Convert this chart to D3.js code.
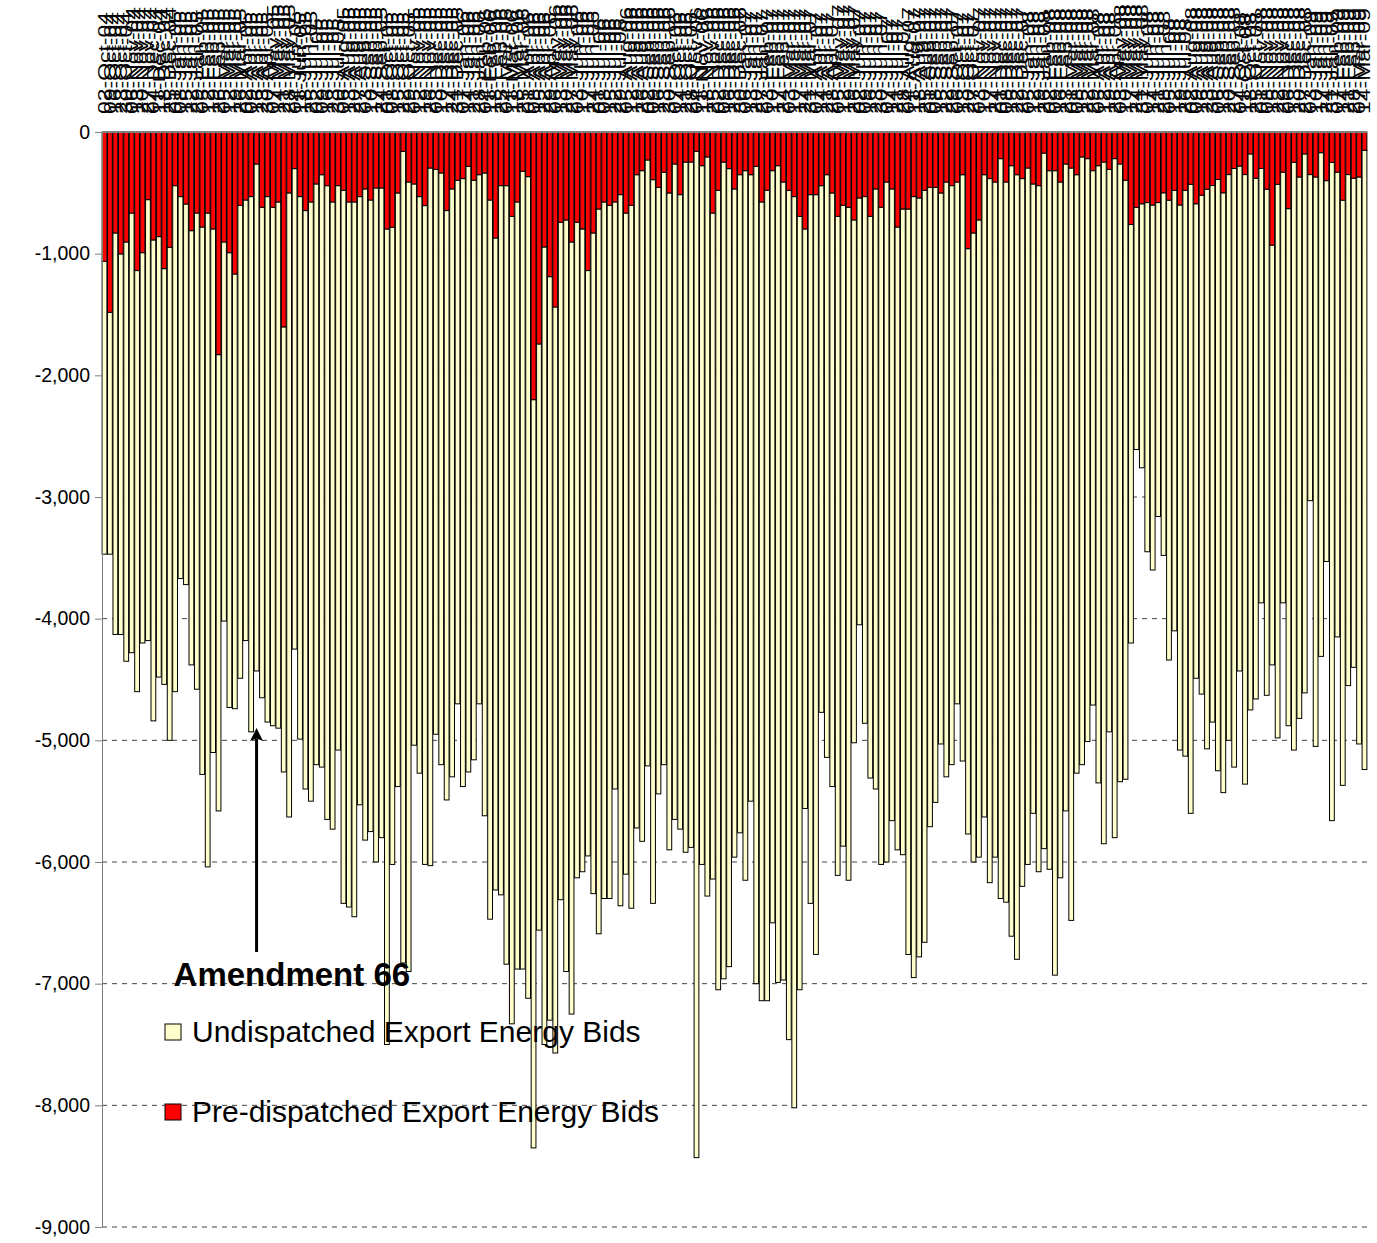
<!DOCTYPE html>
<html>
<head>
<meta charset="utf-8">
<script src="https://cdn.jsdelivr.net/npm/d3@7/dist/d3.min.js"></script>
<style>
  body { margin: 0; background: #fff; }
  text { font-family: Arial, "Liberation Sans", sans-serif; }
</style>
</head>
<body>
<svg id="chart" width="1377" height="1243"></svg>
<script>
// weekly export bids, MW (stored as positive magnitudes, drawn below zero)
const firstWeek = "2004-10-02";

const preDispatched = [
  1063, 1482, 830, 1002, 904, 666, 1139, 992, 556, 887,
  860, 1123, 948, 441, 531, 592, 811, 666, 781, 666,
  797, 1830, 904, 992, 1167, 603, 559, 531, 263, 619,
  531, 619, 575, 1602, 501, 301, 531, 646, 575, 427,
  351, 441, 575, 441, 479, 575, 575, 531, 468, 559,
  460, 460, 797, 783, 501, 159, 411, 427, 531, 605,
  296, 307, 337, 646, 468, 397, 383, 282, 397, 351,
  337, 559, 871, 441, 441, 693, 575, 323, 367, 2200,
  1742, 945, 1189, 1438, 742, 723, 904, 742, 797, 1139,
  830, 633, 575, 603, 575, 515, 666, 603, 351, 318,
  230, 392, 455, 331, 501, 263, 515, 247, 247, 159,
  277, 205, 666, 479, 247, 301, 468, 351, 318, 351,
  282, 575, 479, 318, 277, 411, 479, 531, 693, 797,
  515, 515, 441, 351, 501, 693, 603, 619, 723, 542,
  531, 693, 468, 619, 411, 468, 781, 633, 633, 531,
  542, 479, 455, 455, 501, 411, 441, 411, 351, 959,
  830, 723, 351, 383, 411, 219, 411, 277, 351, 383,
  296, 427, 441, 173, 318, 318, 411, 263, 296, 351,
  205, 219, 318, 277, 247, 307, 219, 263, 397, 760,
  620, 590, 580, 600, 580, 500, 560, 480, 600, 480,
  430, 590, 520, 470, 440, 390, 500, 350, 300, 280,
  350, 180, 380, 300, 470, 930, 430, 330, 630, 250,
  370, 180, 350, 370, 170, 400, 250, 330, 560, 350,
  380, 370, 150
];

// pre-dispatched + undispatched
const totalBids = [
  3470, 3470, 4130, 4130, 4350, 4280, 4600, 4200, 4180, 4840,
  4480, 4540, 5000, 4600, 3670, 3720, 4380, 4580, 5280, 6040,
  5100, 5580, 4020, 4730, 4740, 4490, 4180, 4930, 4430, 4650,
  4850, 4880, 4900, 5260, 5630, 4250, 4990, 5400, 5500, 5200,
  5220, 5650, 5730, 5080, 6340, 6370, 6450, 5530, 5820, 5750,
  6000, 5800, 7500, 6020, 5380, 6830, 6900, 5040, 5270, 6020,
  6030, 4950, 5200, 5490, 5300, 4700, 5380, 5260, 5160, 4700,
  5620, 6470, 6230, 6270, 6840, 7330, 6880, 6880, 7120, 8350,
  6560, 7500, 7300, 7570, 6310, 6900, 7250, 6130, 6080, 5950,
  6260, 6590, 6300, 6300, 5400, 6360, 6100, 6380, 5720, 5830,
  5210, 6340, 5440, 5200, 5900, 5650, 5730, 5920, 5880, 8430,
  6020, 6280, 6140, 7050, 6960, 6860, 5960, 5760, 6150, 5500,
  7000, 7140, 7140, 6500, 6990, 6970, 7460, 8020, 7050, 5560,
  6340, 6760, 4770, 5140, 5380, 6110, 5870, 6150, 5020, 4050,
  4860, 5310, 5400, 6020, 6000, 5660, 5900, 5940, 6760, 6950,
  6780, 6660, 5710, 5510, 5030, 5300, 5200, 4700, 5170, 5770,
  6000, 5960, 5630, 6170, 5960, 6300, 6330, 6610, 6800, 6200,
  6020, 5600, 6080, 5890, 6060, 6930, 6130, 5580, 6480, 5270,
  5200, 5010, 4710, 5350, 5850, 4930, 5800, 5340, 5320, 4200,
  2610, 2760, 3450, 3600, 3160, 3480, 4340, 4100, 5080, 5130,
  5600, 4490, 4620, 5070, 4850, 5250, 5430, 5000, 5220, 4430,
  5360, 4750, 4660, 3870, 4630, 4380, 4980, 3870, 4880, 5080,
  4820, 4610, 3030, 5050, 4310, 3530, 5660, 4150, 5370, 4550,
  4400, 5030, 5240
];

const yTicks = [0, -1000, -2000, -3000, -4000, -5000, -6000, -7000, -8000, -9000];
const seriesNames = ["Undispatched Export Energy Bids", "Pre-dispatched Export Energy Bids"];
const seriesColors = ["#FFFFCC", "#FF0000"];
const annotationText = "Amendment 66";
const annotationWeek = 28;
const annotationTip = -4870;
const annotationTail = -6740;

const svg = d3.select('#chart');
const width = +svg.attr('width');
const height = +svg.attr('height');
const margin = { top: 132, right: 10, bottom: 16, left: 102 };

const parseDay = d3.utcParse('%Y-%m-%d');
const fmtWeek = d3.utcFormat('%d-%b-%y');
const weekLabels = totalBids.map((_, i) => fmtWeek(d3.utcDay.offset(parseDay(firstWeek), 7 * i)));

const x = d3.scaleBand()
  .domain(weekLabels)
  .range([margin.left, width - margin.right])
  .paddingInner(0.12)
  .paddingOuter(0.02);

const y = d3.scaleLinear()
  .domain([-9000, 0])
  .range([height - margin.bottom, margin.top]);

const locale = d3.formatLocale({ decimal: '.', thousands: ',', grouping: [3], currency: ['$', ''], minus: '-' });
const fmtY = locale.format(',');

svg.append('rect').attr('width', width).attr('height', height).attr('fill', '#fff');

// dashed gridlines
svg.append('g')
  .selectAll('line')
  .data(yTicks.filter(d => d !== 0))
  .join('line')
  .attr('x1', margin.left)
  .attr('x2', width - margin.right)
  .attr('y1', d => y(d))
  .attr('y2', d => y(d))
  .attr('stroke', '#444')
  .attr('stroke-width', 1)
  .attr('stroke-dasharray', '5,5');

// stacked bars
const bars = svg.append('g');
weekLabels.forEach((w, i) => {
  const red = preDispatched[i];
  const total = totalBids[i];
  bars.append('rect')
    .attr('x', x(w))
    .attr('width', x.bandwidth())
    .attr('y', y(-red))
    .attr('height', y(-total) - y(-red))
    .attr('fill', seriesColors[0])
    .attr('stroke', '#000')
    .attr('stroke-width', 1);
  bars.append('rect')
    .attr('x', x(w))
    .attr('width', x.bandwidth())
    .attr('y', y(0))
    .attr('height', y(-red) - y(0))
    .attr('fill', seriesColors[1])
    .attr('stroke', '#000')
    .attr('stroke-width', 1);
});

// top category axis
svg.append('line')
  .attr('x1', margin.left).attr('x2', width - margin.right)
  .attr('y1', y(0)).attr('y2', y(0))
  .attr('stroke', '#808080').attr('stroke-width', 2);

svg.append('g')
  .selectAll('text')
  .data(weekLabels)
  .join('text')
  .attr('transform', d => `translate(${x(d) + x.bandwidth() / 2},114) rotate(-90) scale(1.35,1)`)
  .attr('dy', '0.35em')
  .attr('font-size', 17)
  .attr('fill', '#000')
  .text(d => d);

// value axis
const yAxis = svg.append('g')
  .attr('transform', `translate(${margin.left},0)`)
  .call(d3.axisLeft(y).tickValues(yTicks).tickFormat(fmtY).tickSize(7).tickSizeOuter(0).tickPadding(5));
yAxis.select('.domain').attr('stroke', '#808080');
yAxis.selectAll('.tick line').attr('stroke', '#808080');
yAxis.selectAll('.tick text')
  .attr('font-size', 19.5)
  .attr('font-family', 'Arial, "Liberation Sans", sans-serif')
  .attr('fill', '#000');

// annotation arrow
const ax = x(weekLabels[annotationWeek]) + x.bandwidth() / 2;
svg.append('defs').append('marker')
  .attr('id', 'head')
  .attr('viewBox', '0 0 10 10')
  .attr('refX', 2).attr('refY', 5)
  .attr('markerWidth', 18).attr('markerHeight', 13)
  .attr('markerUnits', 'userSpaceOnUse')
  .attr('orient', 'auto')
  .append('path').attr('d', 'M0,0L10,5L0,10L2,5Z').attr('fill', '#000');

svg.append('line')
  .attr('x1', ax).attr('x2', ax)
  .attr('y1', y(annotationTail)).attr('y2', y(annotationTip) + 14)
  .attr('stroke', '#000').attr('stroke-width', 3)
  .attr('marker-end', 'url(#head)');

svg.append('text')
  .attr('x', ax - 83)
  .attr('y', y(annotationTail) + 34)
  .attr('font-size', 33)
  .attr('font-weight', 'bold')
  .attr('fill', '#000')
  .text(annotationText);

// legend
const legend = svg.append('g').attr('transform', 'translate(165,1024)');
seriesNames.forEach((name, i) => {
  const g = legend.append('g').attr('transform', `translate(0,${i * 80})`);
  g.append('rect')
    .attr('width', 16).attr('height', 16)
    .attr('fill', seriesColors[i])
    .attr('stroke', '#000').attr('stroke-width', 1);
  g.append('text')
    .attr('x', 27).attr('y', 18)
    .attr('font-size', 30)
    .attr('fill', '#000')
    .text(name);
});
</script>
</body>
</html>
